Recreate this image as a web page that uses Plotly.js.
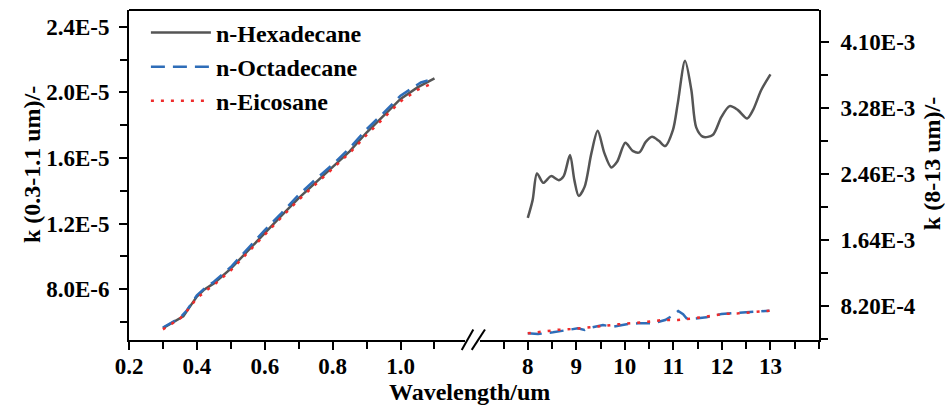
<!DOCTYPE html>
<html>
<head>
<meta charset="utf-8">
<script src="https://cdn.plot.ly/plotly-3.0.1.min.js"></script>
<style>html,body{margin:0;padding:0;background:#fff;}#chart{width:945px;height:406px;}</style>
</head>
<body>
<div id="chart"></div>
<script>
// ---------- data ----------
const seriesNames = ['n-Hexadecane', 'n-Octadecane', 'n-Eicosane'];

// 0.3 - 1.1 um range (left axis)
const hexVisX = [0.30,0.32,0.34,0.36,0.38,0.40,0.42,0.45,0.50,0.55,0.60,0.65,0.70,0.75,0.80,0.85,0.90,0.95,1.00,1.05,1.08,1.10];
const hexVisK = [5.62e-6,5.85e-6,6.08e-6,6.35e-6,6.95e-6,7.55e-6,7.95e-6,8.35e-6,9.25e-6,1.035e-5,1.145e-5,1.250e-5,1.355e-5,1.450e-5,1.540e-5,1.640e-5,1.755e-5,1.860e-5,1.960e-5,2.030e-5,2.060e-5,2.085e-5];

const octVisX = [0.30,0.33,0.35,0.37,0.40,0.42,0.45,0.50,0.55,0.60,0.65,0.70,0.75,0.80,0.85,0.90,0.95,1.00,1.03,1.06,1.08];
const octVisK = [5.66e-6,6.00e-6,6.25e-6,6.70e-6,7.62e-6,8.00e-6,8.45e-6,9.35e-6,1.050e-5,1.160e-5,1.265e-5,1.375e-5,1.470e-5,1.560e-5,1.660e-5,1.775e-5,1.875e-5,1.980e-5,2.020e-5,2.060e-5,2.072e-5];

const eicVisX = [0.30,0.33,0.35,0.37,0.40,0.43,0.45,0.50,0.55,0.60,0.65,0.70,0.75,0.80,0.85,0.90,0.95,1.00,1.05,1.10];
const eicVisK = [5.55e-6,5.95e-6,6.20e-6,6.65e-6,7.45e-6,7.95e-6,8.25e-6,9.15e-6,1.025e-5,1.135e-5,1.240e-5,1.345e-5,1.440e-5,1.530e-5,1.630e-5,1.740e-5,1.845e-5,1.945e-5,2.015e-5,2.060e-5];

// 8 - 13 um range (right axis)
const hexIrX = [8.00,8.10,8.19,8.32,8.48,8.64,8.74,8.87,8.96,9.05,9.17,9.31,9.44,9.58,9.72,9.84,10.01,10.16,10.30,10.43,10.56,10.70,10.83,10.99,11.09,11.24,11.37,11.47,11.61,11.81,11.99,12.16,12.33,12.52,12.64,12.81,13.00];
const hexIrK = [1.914e-3,2.135e-3,2.467e-3,2.350e-3,2.434e-3,2.384e-3,2.434e-3,2.696e-3,2.384e-3,2.188e-3,2.300e-3,2.717e-3,2.998e-3,2.717e-3,2.542e-3,2.612e-3,2.849e-3,2.749e-3,2.729e-3,2.861e-3,2.924e-3,2.874e-3,2.808e-3,3.007e-3,3.340e-3,3.871e-3,3.506e-3,3.041e-3,2.924e-3,2.945e-3,3.173e-3,3.306e-3,3.256e-3,3.153e-3,3.256e-3,3.506e-3,3.701e-3];

const octIrX = [8.00,8.21,8.52,8.72,9.03,9.17,9.29,9.55,9.76,10.07,10.28,10.59,10.83,11.00,11.10,11.20,11.27,11.41,11.68,11.99,12.23,12.64,12.98];
const octIrK = [4.76e-4,4.67e-4,4.89e-4,5.08e-4,5.38e-4,5.17e-4,5.46e-4,5.79e-4,5.58e-4,5.92e-4,6.01e-4,6.01e-4,6.42e-4,7.04e-4,7.54e-4,7.13e-4,6.63e-4,6.58e-4,6.75e-4,7.17e-4,7.25e-4,7.45e-4,7.58e-4];

const eicIrX = [8.00,8.31,8.62,8.93,9.24,9.55,9.86,10.16,10.47,10.78,11.09,11.41,11.72,12.03,12.34,12.65,12.98];
const eicIrK = [4.76e-4,5.00e-4,5.20e-4,5.30e-4,5.46e-4,5.67e-4,5.88e-4,6.00e-4,6.20e-4,6.42e-4,6.42e-4,6.62e-4,6.90e-4,7.17e-4,7.25e-4,7.45e-4,7.58e-4];

// tick labels
const xVisTickVals = [0.2,0.4,0.6,0.8,1.0];
const xVisTickText = ['0.2','0.4','0.6','0.8','1.0'];
const xIrTickVals = [8,9,10,11,12,13];
const xIrTickText = ['8','9','10','11','12','13'];
const yVisTickVals = [8.0e-6,1.2e-5,1.6e-5,2.0e-5,2.4e-5];
const yVisTickText = ['8.0E-6','1.2E-5','1.6E-5','2.0E-5','2.4E-5'];
const yIrTickVals = [8.2e-4,1.64e-3,2.46e-3,3.28e-3,4.10e-3];
const yIrTickText = ['8.20E-4','1.64E-3','2.46E-3','3.28E-3','4.10E-3'];

// ---------- styling ----------
const FONT = 'Liberation Serif, Times New Roman, serif';
const colors = ['#555555', '#2E6DB8', '#EE2B2B'];
const dashes = ['solid', '14px,8px', '3px,7px'];
const widths = [2.5, 2.5, 2.5];

const traces = [
  {x: hexVisX, y: hexVisK, xaxis: 'x', yaxis: 'y', name: seriesNames[0], legendgroup: 'a', showlegend: true},
  {x: octVisX, y: octVisK, xaxis: 'x', yaxis: 'y', name: seriesNames[1], legendgroup: 'b', showlegend: true},
  {x: eicVisX, y: eicVisK, xaxis: 'x', yaxis: 'y', name: seriesNames[2], legendgroup: 'c', showlegend: true},
  {x: hexIrX, y: hexIrK, xaxis: 'x2', yaxis: 'y2', name: seriesNames[0], legendgroup: 'a', showlegend: false},
  {x: octIrX, y: octIrK, xaxis: 'x2', yaxis: 'y2', name: seriesNames[1], legendgroup: 'b', showlegend: false},
  {x: eicIrX, y: eicIrK, xaxis: 'x2', yaxis: 'y2', name: seriesNames[2], legendgroup: 'c', showlegend: false}
].map((t, i) => Object.assign(t, {
  type: 'scatter', mode: 'lines',
  line: {color: colors[i % 3], dash: dashes[i % 3], width: widths[i % 3], shape: i % 3 === 0 && i >= 3 ? 'spline' : 'linear', smoothing: 0.8}
}));

const tickFont = {family: FONT, size: 23, color: '#000', weight: 'bold'};
const axisCommon = {
  showgrid: false, zeroline: false, showline: true, linecolor: '#000', linewidth: 2,
  ticks: 'outside', ticklen: 8, tickwidth: 2, tickcolor: '#000', tickfont: tickFont,
  tickmode: 'array', fixedrange: true
};

const layout = {
  width: 945, height: 406,
  margin: {l: 129, r: 126, t: 10, b: 66, pad: 0},
  paper_bgcolor: '#fff', plot_bgcolor: 'rgba(0,0,0,0)',
  font: {family: FONT, size: 23, color: '#000', weight: 'bold'},
  showlegend: true,
  legend: {
    x: 0.0245, y: 0.999, xanchor: 'left', yanchor: 'top',
    bgcolor: 'rgba(0,0,0,0)', borderwidth: 0,
    font: {family: FONT, size: 24, color: '#000', weight: 'bold'},
    itemwidth: 60, tracegroupgap: 0
  },
  xaxis: Object.assign({}, axisCommon, {
    domain: [0, 0.487], range: [0.2, 1.19], anchor: 'y',
    tickvals: xVisTickVals, ticktext: xVisTickText, ticklabelstandoff: -4,
    minor: {tickmode: 'linear', tick0: 0.2, dtick: 0.1, ticks: 'outside', ticklen: 7, tickwidth: 2, tickcolor: '#000'}
  }),
  xaxis2: Object.assign({}, axisCommon, {
    domain: [0.509, 1], range: [7.02, 14], anchor: 'y2',
    tickvals: xIrTickVals, ticktext: xIrTickText, ticklabelstandoff: -4,
    minor: {tickmode: 'linear', tick0: 7.5, dtick: 0.5, ticks: 'outside', ticklen: 7, tickwidth: 2, tickcolor: '#000'}
  }),
  yaxis: Object.assign({}, axisCommon, {
    domain: [0, 1], range: [4.9e-6, 2.502e-5], anchor: 'x', side: 'left',
    tickvals: yVisTickVals, ticktext: yVisTickText, ticklabelstandoff: 5,
    minor: {tickmode: 'linear', tick0: 0, dtick: 2e-6, ticks: 'outside', ticklen: 7, tickwidth: 2, tickcolor: '#000'}
  }),
  yaxis2: Object.assign({}, axisCommon, {
    domain: [0, 1], range: [3.93e-4, 4.503e-3], anchor: 'x2', side: 'right',
    tickvals: yIrTickVals, ticktext: yIrTickText, ticklabelstandoff: 7,
    minor: {tickmode: 'linear', tick0: 0, dtick: 4.1e-4, ticks: 'outside', ticklen: 7, tickwidth: 2, tickcolor: '#000'}
  }),
  shapes: [
    // top frame line
    {type: 'line', xref: 'paper', yref: 'paper', x0: 0, x1: 1, y0: 1, y1: 1, line: {color: '#000', width: 2}},
    // axis break marks "//"
    {type: 'line', xref: 'paper', yref: 'paper', x0: 0.4822, x1: 0.4990, y0: -0.030, y1: 0.032, line: {color: '#000', width: 2}},
    {type: 'line', xref: 'paper', yref: 'paper', x0: 0.4967, x1: 0.5159, y0: -0.030, y1: 0.032, line: {color: '#000', width: 2}}
  ],
  annotations: [
    {text: 'Wavelength/um', xref: 'paper', yref: 'paper', x: 0.4935, y: -0.158, xanchor: 'center', yanchor: 'middle', showarrow: false,
     font: {family: FONT, size: 24, color: '#000', weight: 'bold'}},
    {text: 'k (0.3-1.1 um)/-', xref: 'paper', yref: 'paper', x: -0.1406, y: 0.533, xanchor: 'center', yanchor: 'middle', textangle: -90, showarrow: false,
     font: {family: FONT, size: 24, color: '#000', weight: 'bold'}},
    {text: 'k (8-13 um)/-', xref: 'paper', yref: 'paper', x: 1.1638, y: 0.533, xanchor: 'center', yanchor: 'middle', textangle: -90, showarrow: false,
     font: {family: FONT, size: 24, color: '#000', weight: 'bold'}}
  ]
};

Plotly.newPlot('chart', traces, layout, {staticPlot: true, displayModeBar: false});
</script>
</body>
</html>
